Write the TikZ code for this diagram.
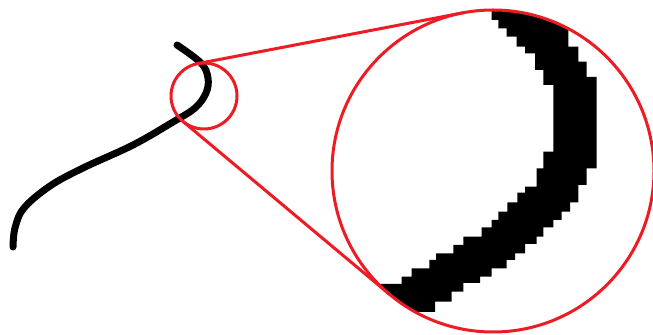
\documentclass[tikz,border=0pt]{standalone}
\usepackage{tikz}
\usetikzlibrary{calc}

\definecolor{paintred}{RGB}{237,28,36}

\begin{document}
\begin{tikzpicture}[x=0.5pt, y=0.5pt, yscale=-1,
    stroke/.style={line width=3.5pt, line cap=round, black},
    lens/.style={line width=1.5pt, paintred}]
        \useasboundingbox (0,0) rectangle (653,335);

        % Circle centres
        \coordinate (sc) at (204,96);
        \coordinate (bc) at (493,171);

        % Original stroke
        \draw[stroke] plot[smooth, tension=0.6] coordinates {(13,247) (15,228) (24,208) (50,186) (83,168) (133,145) (173,122) (195,108) (206,93) (208,78) (201,63) (177,45)};

        % Magnified pixels
        \begin{scope}
            \clip (bc) circle (160);
            \fill[black] (491.7,0) -- (491.7,20) -- (498.3,20) -- (498.3,28.3) -- (506.7,28.3) -- (506.7,36.7)
                -- (516.7,36.7) -- (516.7,46.7) -- (525,46.7) -- (525,53.3) -- (535,53.3) -- (535,70)
                -- (543.3,70) -- (543.3,85) -- (553.3,85) -- (553.3,151.7) -- (543.3,151.7) -- (543.3,168.3)
                -- (536.7,168.3) -- (536.7,186.7) -- (525,186.7) -- (525,192.7) -- (517.3,192.7) -- (517.3,202.3)
                -- (507.3,202.3) -- (507.3,211.7) -- (498.3,211.7) -- (498.3,220) -- (491.7,220) -- (491.7,227.3)
                -- (481.7,227.3) -- (481.7,236.7) -- (463.3,236.7) -- (463.3,245) -- (453.3,245) -- (453.3,253.3)
                -- (436,253.3) -- (436,260) -- (429.3,260) -- (429.3,268.3) -- (411.7,268.3) -- (411.7,276.7)
                -- (401.7,276.7) -- (401.7,284) -- (370,284) -- (370,312) -- (435,312) -- (435,301.7)
                -- (451.7,301.7) -- (451.7,291.7) -- (463.3,291.7) -- (463.3,283) -- (480,283) -- (480,276.7)
                -- (491.7,276.7) -- (491.7,268.3) -- (506.7,268.3) -- (506.7,260) -- (515,260) -- (515,253.3)
                -- (525,253.3) -- (525,244) -- (536.7,244) -- (536.7,236.7) -- (543.3,236.7) -- (543.3,227.3)
                -- (553.3,227.3) -- (553.3,220) -- (561.7,220) -- (561.7,211.7) -- (570,211.7) -- (570,202.3)
                -- (578.3,202.3) -- (578.3,185) -- (586.7,185) -- (586.7,168.3) -- (596.7,168.3) -- (596.7,77)
                -- (586.7,77) -- (586.7,61.7) -- (578.3,61.7) -- (578.3,46.7) -- (568.3,46.7) -- (568.3,0) -- cycle;
        \end{scope}

        % Lens circles
        \draw[lens] (sc) circle (33);
        \draw[lens] (bc) circle (161);

        % Tangent points
        \coordinate (sa) at ($(sc)+(-100.85:33)$);
        \coordinate (ba) at ($(bc)+(-100.85:161)$);
        \coordinate (sb) at ($(sc)+(129.95:33)$);
        \coordinate (bb) at ($(bc)+(129.95:161)$);

        % Tangents
        \draw[lens] (sa) -- (ba);
        \draw[lens] (sb) -- (bb);
    \end{tikzpicture}
\end{document}
